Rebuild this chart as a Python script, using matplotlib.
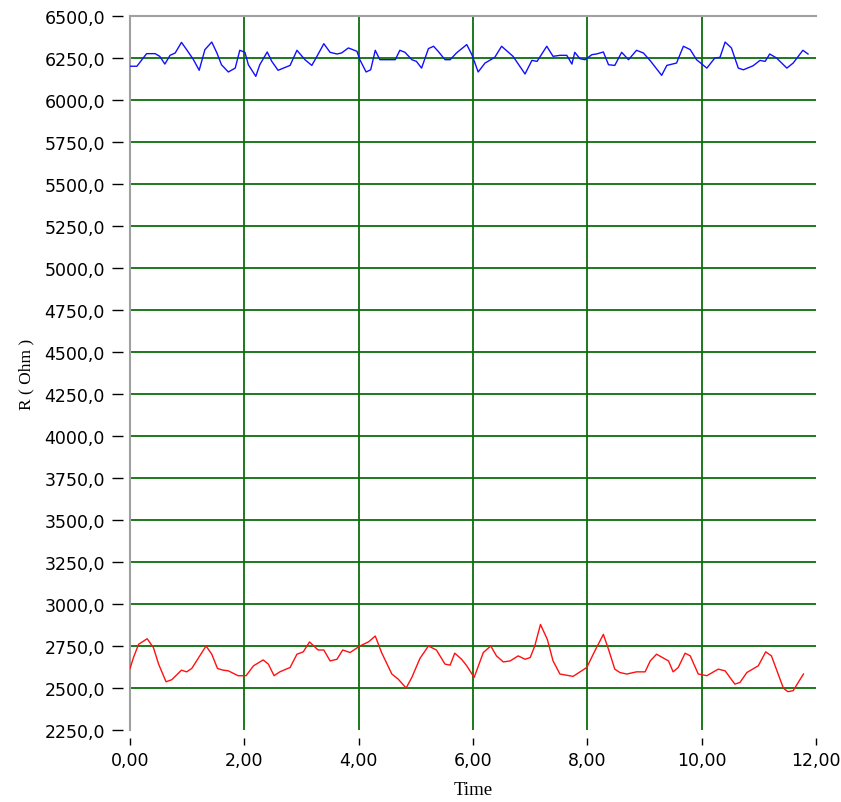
#%% imports

import numpy as np
import matplotlib
matplotlib.use("Agg")
import matplotlib.pyplot as plt
from matplotlib.ticker import FuncFormatter


#%% data

t_blue = [0.00, 0.12, 0.29, 0.44, 0.52, 0.61, 0.70, 0.79, 0.90, 0.99, 1.11, 1.21,
          1.31, 1.43, 1.52, 1.60, 1.72, 1.84, 1.92, 2.01, 2.07, 2.20, 2.27, 2.40,
          2.48, 2.59, 2.80, 2.92, 3.06, 3.18, 3.27, 3.39, 3.50, 3.62, 3.70, 3.82,
          3.97, 4.02, 4.13, 4.21, 4.29, 4.37, 4.55, 4.64, 4.72, 4.81, 4.93, 5.01,
          5.10, 5.22, 5.31, 5.39, 5.51, 5.60, 5.71, 5.89, 5.98, 6.09, 6.21, 6.38,
          6.50, 6.70, 6.91, 7.03, 7.12, 7.29, 7.40, 7.52, 7.64, 7.73, 7.78, 7.87,
          7.96, 8.08, 8.16, 8.28, 8.37, 8.48, 8.60, 8.72, 8.86, 8.98, 9.10, 9.30,
          9.39, 9.56, 9.68, 9.80, 9.91, 10.09, 10.23, 10.32, 10.41, 10.52, 10.64,
          10.73, 10.90, 11.02, 11.11, 11.19, 11.31, 11.49, 11.60, 11.77, 11.86]
r_blue = [6201, 6201, 6276, 6276, 6260, 6214, 6266, 6280, 6343, 6300, 6240, 6177,
          6300, 6345, 6280, 6210, 6167, 6190, 6296, 6284, 6210, 6141, 6210, 6286,
          6230, 6177, 6206, 6296, 6240, 6206, 6260, 6335, 6284, 6274, 6280, 6310,
          6290, 6240, 6167, 6180, 6296, 6240, 6240, 6240, 6296, 6284, 6240, 6230,
          6190, 6306, 6320, 6290, 6240, 6240, 6280, 6330, 6270, 6167, 6220, 6254,
          6320, 6260, 6155, 6236, 6230, 6320, 6260, 6266, 6266, 6214, 6284, 6246,
          6240, 6270, 6274, 6286, 6210, 6206, 6284, 6240, 6296, 6280, 6234, 6147,
          6206, 6220, 6320, 6300, 6240, 6190, 6250, 6254, 6345, 6310, 6190,
          6180, 6204, 6236, 6230, 6274, 6250, 6190, 6220, 6296, 6274]

t_red = [0.00, 0.06, 0.15, 0.30, 0.41, 0.50, 0.63, 0.73, 0.90, 0.99, 1.08, 1.33,
         1.43, 1.53, 1.63, 1.72, 1.89, 2.03, 2.16, 2.33, 2.42, 2.52, 2.62, 2.80,
         2.92, 3.03, 3.14, 3.29, 3.39, 3.50, 3.62, 3.72, 3.85, 4.02, 4.17, 4.29,
         4.40, 4.58, 4.69, 4.83, 4.93, 5.07, 5.22, 5.36, 5.51, 5.60, 5.68, 5.80,
         5.89, 6.02, 6.18, 6.31, 6.41, 6.53, 6.65, 6.79, 6.91, 7.00, 7.08, 7.18,
         7.30, 7.40, 7.52, 7.75, 7.99, 8.13, 8.28, 8.37, 8.48, 8.57, 8.69, 8.86,
         9.01, 9.10, 9.21, 9.42, 9.50, 9.59, 9.71, 9.80, 9.94, 10.09, 10.29, 10.41,
         10.58, 10.67, 10.79, 10.99, 11.12, 11.22, 11.43, 11.51, 11.60, 11.78]
r_red = [2616, 2681, 2760, 2793, 2740, 2642, 2537, 2549, 2606, 2596, 2616, 2750,
         2701, 2616, 2606, 2602, 2573, 2573, 2632, 2667, 2642, 2573, 2596, 2622,
         2701, 2715, 2774, 2726, 2726, 2661, 2671, 2726, 2711, 2750, 2774, 2809,
         2711, 2583, 2553, 2500, 2563, 2675, 2750, 2726, 2642, 2636, 2707, 2671,
         2632, 2563, 2711, 2750, 2691, 2655, 2661, 2691, 2671, 2681, 2750, 2878,
         2789, 2661, 2583, 2569, 2622, 2720, 2819, 2730, 2612, 2592, 2583, 2596,
         2596, 2661, 2701, 2661, 2596, 2622, 2707, 2691, 2583, 2573, 2612, 2602,
         2523, 2533, 2592, 2632, 2715, 2691, 2498, 2478, 2484, 2583]

x_ticks = [0, 2, 4, 6, 8, 10, 12]
y_ticks = np.arange(2250, 6501, 250)


#%% plot

fig = plt.figure(figsize=(8.41, 8.03), dpi=100)
ax = fig.add_axes([0.1546, 0.0897, 0.8157, 0.8891])

grid_col = '#0b700b'
for xv in x_ticks[1:-1]:
    ax.axvline(xv, color=grid_col, lw=1.3, zorder=1)
for yv in y_ticks[1:-1]:
    ax.axhline(yv, color=grid_col, lw=1.3, zorder=1)
# grey frame line on the left, ticks sit a little apart from it
ax.axvline(0, color='#a0a0a0', lw=1.5, zorder=2, clip_on=False)

ax.plot(t_blue, r_blue, color='#1010ff', lw=1.0, zorder=3)
ax.plot(t_red, r_red, color='#ff1010', lw=1.0, zorder=3)

ax.set_xlim(0, 12)
ax.set_ylim(2250, 6500)
ax.set_xticks(x_ticks)
ax.set_yticks(y_ticks)
ax.xaxis.set_major_formatter(FuncFormatter(lambda v, p: f"{v:.2f}".replace('.', ',')))
ax.yaxis.set_major_formatter(FuncFormatter(lambda v, p: f"{v:.1f}".replace('.', ',')))

ax.spines['right'].set_visible(False)
ax.spines['bottom'].set_visible(False)
ax.spines['left'].set_visible(False)
ax.spines['top'].set_color('#a0a0a0')
ax.spines['top'].set_linewidth(1.5)
ax.spines['bottom'].set_position(('outward', 6))
ax.spines['left'].set_position(('outward', 5))

ax.tick_params(axis='y', length=8, width=1.0, color='black', pad=5, labelsize=12.5)
ax.tick_params(axis='x', length=5, width=1.0, color='black', pad=4, labelsize=12.5)

ax.set_ylabel('R ( Ohm )', family='Liberation Serif', fontsize=12.5)
ax.yaxis.set_label_coords(-0.14, 0.5)
ax.set_xlabel('Time', family='Liberation Serif', fontsize=13.5, labelpad=9)

fig.savefig('out.png', dpi=100)
